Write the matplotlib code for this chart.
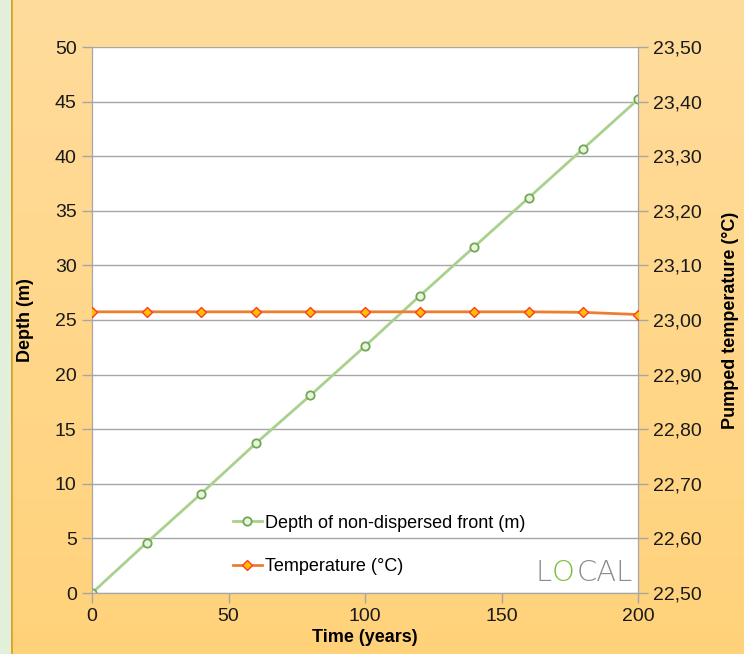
import matplotlib.pyplot as plt
import numpy as np
from matplotlib.ticker import FuncFormatter

# Data
years = [0, 20, 40, 60, 80, 100, 120, 140, 160, 180, 200]
depth = [0, 4.6, 9.1, 13.7, 18.1, 22.6, 27.2, 31.7, 36.2, 40.7, 45.2]
temperature = [23.015, 23.015, 23.015, 23.015, 23.015, 23.015, 23.015,
               23.015, 23.015, 23.014, 23.010]

plt.rcParams['font.family'] = ['Liberation Sans', 'DejaVu Sans']

fig = plt.figure(figsize=(7.44, 6.54), dpi=100)
fig.patch.set_facecolor('#E2EFDA')

# orange gradient background
bg = fig.add_axes([11 / 744, 0, 1 - 11 / 744, 1], zorder=-10)
grad = np.linspace(0, 1, 256).reshape(-1, 1)
top_c = np.array([255, 220, 156]) / 255
bot_c = np.array([255, 210, 122]) / 255
img = top_c * (1 - grad[..., None]) + bot_c * grad[..., None]
img = np.repeat(img, 2, axis=1)
bg.imshow(img, aspect='auto', extent=[0, 1, 0, 1])
bg.axvline(0.0, color='#D8A52A', lw=2)
bg.set_axis_off()

ax = fig.add_axes([92 / 744, 61 / 654, 546 / 744, 546 / 654])
ax.set_facecolor('white')
ax2 = ax.twinx()

grid_c = '#A6A6A6'
ax.set_axisbelow(True)
ax.grid(axis='y', color=grid_c, lw=1)
for a in (ax, ax2):
    for s in a.spines.values():
        s.set_color(grid_c)
    a.spines['top'].set_visible(False)

l1, = ax.plot(years, depth, color='#A9D18E', lw=2, marker='o', ms=6,
              mfc='#EAF4E2', mec='#70A852', mew=1.3, zorder=3,
              label='Depth of non-dispersed front (m)')
l2, = ax2.plot(years, temperature, color='#ED7D31', lw=2, marker='D', ms=5,
               mfc='#FFC000', mec='#FF3B1F', mew=1, zorder=3,
               label='Temperature (°C)')

ax.set_xlim(0, 200)
ax.set_ylim(0, 50)
ax.set_xticks(range(0, 201, 50))
ax.set_yticks(range(0, 51, 5))
ax2.set_ylim(22.5, 23.5)
ax2.set_yticks(np.arange(22.5, 23.51, 0.1))
ax2.yaxis.set_major_formatter(FuncFormatter(lambda v, p: f'{v:.2f}'.replace('.', ',')))

ax.tick_params(axis='both', labelsize=14, colors=grid_c, labelcolor='#1A1A1A',
               length=7, width=1, pad=4)
ax2.tick_params(axis='y', labelsize=14, colors=grid_c, labelcolor='#1A1A1A',
                length=7, width=1, pad=4)

ax.set_xlabel('Time (years)', fontsize=13, fontweight='bold', labelpad=3)
ax.set_ylabel('Depth (m)', fontsize=13, fontweight='bold', labelpad=15)
ax2.set_ylabel('Pumped temperature (°C)', fontsize=13, fontweight='bold', labelpad=14)

leg = ax.legend(handles=[l1, l2], loc='lower left', bbox_to_anchor=(0.225, 0.0),
                frameon=False, fontsize=13, handlelength=1.6, handletextpad=0.2,
                labelspacing=1.45, borderaxespad=0.6)

# LOCAL logo
logo = dict(transform=ax.transAxes, fontsize=21, family='DejaVu Sans',
            va='baseline', fontweight='light')
ax.text(0.812, 0.022, 'L', color='#8C8C8C', **logo)
ax.text(0.842, 0.022, 'O', color='#7DBE3C', **logo)
ax.text(0.887, 0.022, 'CAL', color='#8C8C8C', **logo)

fig.savefig('out.png', dpi=100, facecolor=fig.get_facecolor())
